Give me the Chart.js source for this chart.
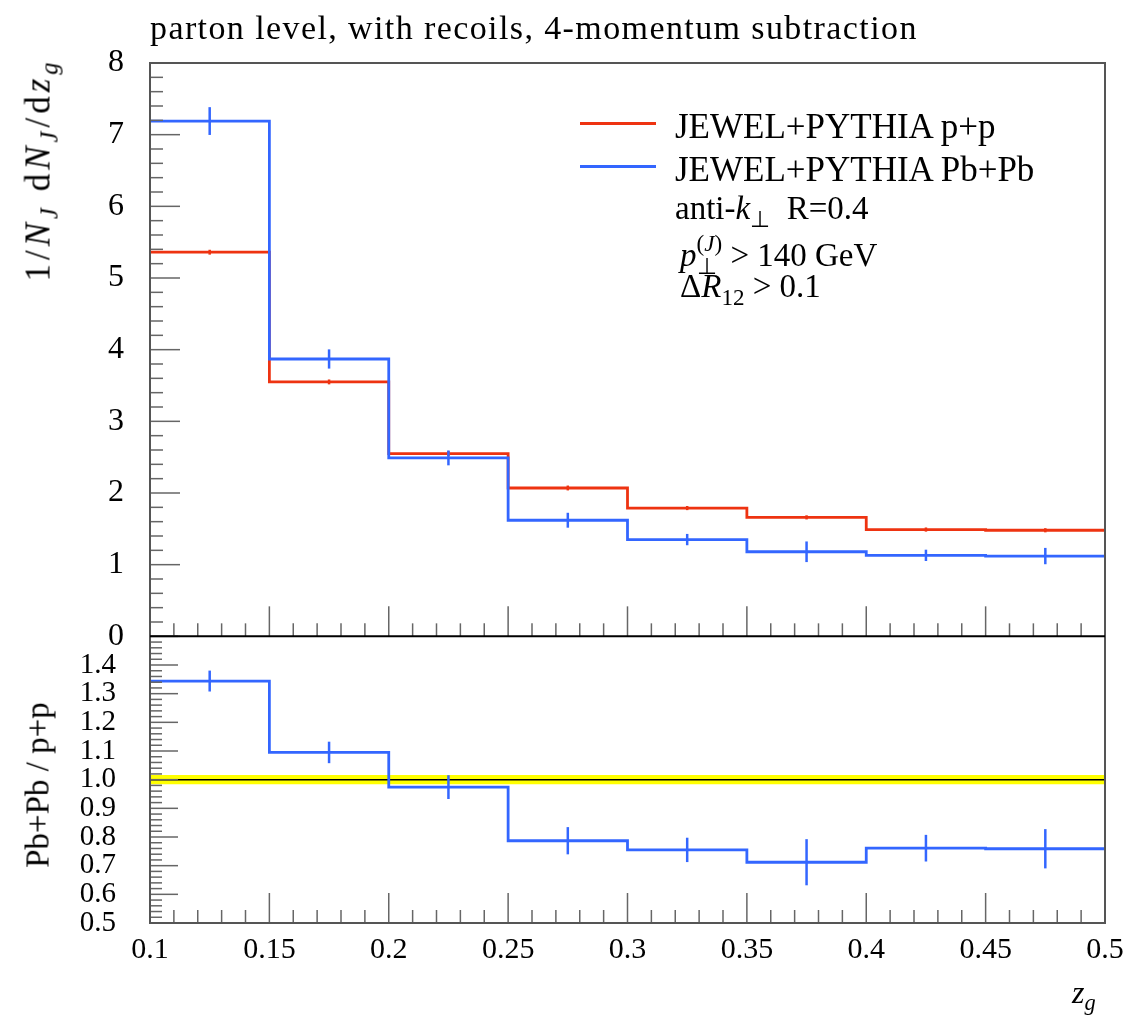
<!DOCTYPE html>
<html>
<head>
<meta charset="utf-8">
<script src="https://cdn.jsdelivr.net/npm/chart.js@4.4.0/dist/chart.umd.min.js"></script>
<style>
body{margin:0;background:#fff;}
#wrap{position:relative;width:1129px;height:1017px;font-family:"Liberation Serif",serif;color:#000;overflow:hidden;}
#wrap canvas{position:absolute;left:0;top:0;}
.t{position:absolute;white-space:nowrap;line-height:1;}
.rot{transform:translate(-50%,-50%) rotate(-90deg);}
.leg{position:absolute;height:3px;width:76px;}
sub,sup{font-size:0.7em;line-height:0;}
.ss{display:inline-block;vertical-align:-0.35em;font-size:0.7em;line-height:1;text-align:left;}
</style>
</head>
<body>
<div id="wrap">
<canvas id="myChart" width="1129" height="1017"></canvas>
<div class="t" style="left:150px;top:11px;font-size:34px;letter-spacing:1.4px;">parton level, with recoils, 4-momentum subtraction</div>
<div class="t rot" style="left:38px;top:170px;font-size:35px;letter-spacing:4px;">1/<i>N</i><sub><i>J</i></sub> d<i>N</i><sub><i>J</i></sub>/d<i>z</i><sub><i>g</i></sub></div>
<div class="t rot" style="left:38px;top:785px;font-size:33px;">Pb+Pb / p+p</div>
<div class="t" style="left:1072px;top:976px;font-size:32px;"><i>z</i><sub><i>g</i></sub></div>
<div class="leg" style="left:580px;top:122px;background:#ee3311;"></div>
<div class="leg" style="left:580px;top:165px;background:#3366ff;"></div>
<div class="t" style="left:675px;top:109px;font-size:35px;">JEWEL+PYTHIA p+p</div>
<div class="t" style="left:675px;top:152px;font-size:35px;">JEWEL+PYTHIA Pb+Pb</div>
<div class="t" style="left:675px;top:192px;font-size:33px;">anti-<i>k</i><sub>⊥</sub>&nbsp; R=0.4</div>
<div class="t" style="left:680px;top:232px;font-size:33px;"><i>p</i><span class="ss">(<i>J</i>)<br>⊥</span> &gt; 140 GeV</div>
<div class="t" style="left:680px;top:270px;font-size:33px;">Δ<i>R</i><sub>12</sub> &gt; 0.1</div>
</div>
<script>
// bins in z_g
const binEdges = [0.1, 0.15, 0.2, 0.25, 0.3, 0.35, 0.4, 0.45, 0.5];

// p+p
const ppValues = [5.36, 3.55, 2.55, 2.07, 1.79, 1.66, 1.49, 1.48];
const ppErrors = [0.02, 0.02, 0.02, 0.02, 0.015, 0.015, 0.015, 0.015];

// Pb+Pb
const pbValues = [7.19, 3.87, 2.49, 1.62, 1.35, 1.18, 1.13, 1.12];
const pbErrors = [0.18, 0.12, 0.09, 0.09, 0.065, 0.13, 0.065, 0.1];

// Pb+Pb / p+p
const ratioValues = [1.344, 1.095, 0.974, 0.787, 0.755, 0.712, 0.761, 0.759];
const ratioErrors = [0.033, 0.034, 0.038, 0.044, 0.039, 0.077, 0.043, 0.065];
const bandHalf = 0.016;

// tick labels
const xTicks = [0.1, 0.15, 0.2, 0.25, 0.3, 0.35, 0.4, 0.45, 0.5];
const topTicks = [0, 1, 2, 3, 4, 5, 6, 7, 8];
const ratioTicks = [0.5, 0.6, 0.7, 0.8, 0.9, 1.0, 1.1, 1.2, 1.3, 1.4];

const red = '#ee3311';
const blue = '#3366ff';

function steps(vals) {
  return binEdges.map((e, i) => ({x: e, y: vals[Math.min(i, vals.length - 1)]}));
}

// error bars at bin centres
const errorBars = {
  id: 'errorBars',
  afterDatasetsDraw(chart) {
    const ctx = chart.ctx;
    const x = chart.scales.x;
    const sets = [
      [chart.scales.y, ppValues, ppErrors, red],
      [chart.scales.y, pbValues, pbErrors, blue],
      [chart.scales.y2, ratioValues, ratioErrors, blue]
    ];
    ctx.save();
    ctx.lineWidth = 2.5;
    sets.forEach(([ys, vals, errs, col]) => {
      ctx.strokeStyle = col;
      vals.forEach((v, i) => {
        const px = x.getPixelForValue((binEdges[i] + binEdges[i + 1]) / 2);
        ctx.beginPath();
        ctx.moveTo(px, ys.getPixelForValue(v - errs[i]) + 1);
        ctx.lineTo(px, ys.getPixelForValue(v + errs[i]) - 1);
        ctx.stroke();
      });
    });
    ctx.restore();
  }
};

// frame + inward ticks, rivet style
const frame = {
  id: 'frame',
  afterDraw(chart) {
    const ctx = chart.ctx;
    const x = chart.scales.x, y = chart.scales.y, y2 = chart.scales.y2;
    const L = chart.chartArea.left, R = chart.chartArea.right;
    ctx.save();
    ctx.lineWidth = 1.5;
    ctx.strokeStyle = '#666';
    // x ticks on bottom of both panels
    [y.bottom, y2.bottom].forEach(b => {
      for (let k = 0; k <= 40; k++) {
        const v = 0.1 + k * 0.01;
        const px = x.getPixelForValue(v);
        const len = k % 5 === 0 ? 30 : 13;
        ctx.beginPath();
        ctx.moveTo(px, b);
        ctx.lineTo(px, b - len);
        ctx.stroke();
      }
    });
    // y ticks top panel
    for (let k = 0; k <= 40; k++) {
      const py = y.getPixelForValue(k * 0.2);
      ctx.beginPath();
      ctx.moveTo(L, py);
      ctx.lineTo(L + (k % 5 === 0 ? 30 : 13), py);
      ctx.stroke();
    }
    // y ticks ratio panel
    for (let k = 0; k <= 50; k++) {
      const py = y2.getPixelForValue(0.5 + k * 0.02);
      ctx.beginPath();
      ctx.moveTo(L, py);
      ctx.lineTo(L + (k % 5 === 0 ? 28 : 12), py);
      ctx.stroke();
    }
    // frame
    ctx.strokeStyle = '#555';
    ctx.lineWidth = 2;
    ctx.strokeRect(L, y.top, R - L, y2.bottom - y.top);
    ctx.strokeStyle = '#000';
    ctx.beginPath();
    ctx.moveTo(L, y.bottom);
    ctx.lineTo(R, y.bottom);
    ctx.stroke();
    ctx.restore();
  }
};

const ctx = document.getElementById('myChart');

new Chart(ctx, {
  type: 'line',
  data: {
    datasets: [
      {data: steps(pbValues), yAxisID: 'y', borderColor: blue, stepped: 'before', order: 1},
      {data: steps(ppValues), yAxisID: 'y', borderColor: red, stepped: 'before', order: 2},
      {data: steps(ratioValues), yAxisID: 'y2', borderColor: blue, stepped: 'before', order: 1},
      {data: [{x: 0.1, y: 1}, {x: 0.5, y: 1}], yAxisID: 'y2', borderColor: '#000', borderWidth: 1.5, order: 3},
      {data: [{x: 0.1, y: 1 + bandHalf}, {x: 0.5, y: 1 + bandHalf}], yAxisID: 'y2', borderWidth: 0, borderColor: 'rgba(0,0,0,0)', backgroundColor: '#ffff00', fill: '+1', order: 4},
      {data: [{x: 0.1, y: 1 - bandHalf}, {x: 0.5, y: 1 - bandHalf}], yAxisID: 'y2', borderWidth: 0, borderColor: 'rgba(0,0,0,0)', order: 5}
    ]
  },
  options: {
    responsive: false,
    animation: false,
    devicePixelRatio: 1,
    layout: {padding: {left: 0, right: 24, top: 63, bottom: 0}},
    elements: {
      line: {borderWidth: 2.8, tension: 0},
      point: {radius: 0}
    },
    plugins: {legend: {display: false}, tooltip: {enabled: false}},
    scales: {
      x: {
        type: 'linear', min: 0.1, max: 0.5,
        grid: {display: false}, border: {display: false},
        afterBuildTicks: s => { s.ticks = xTicks.map(v => ({value: v})); },
        afterFit: s => { s.height = 94; },
        ticks: {
          autoSkip: false, maxRotation: 0, padding: 1, color: '#000',
          font: {family: 'Liberation Serif', size: 30},
          callback: v => String(Math.round(v * 100) / 100)
        }
      },
      y2: {
        type: 'linear', position: 'left', stack: 'panels', stackWeight: 1,
        min: 0.5, max: 1.5,
        grid: {display: false}, border: {display: false},
        afterBuildTicks: s => { s.ticks = ratioTicks.map(v => ({value: v})); },
        afterFit: s => { s.width = 150; },
        ticks: {autoSkip: false, padding: 26, color: '#000', font: {family: 'Liberation Serif', size: 29},
          callback: v => v.toFixed(1)}
      },
      y: {
        type: 'linear', position: 'left', stack: 'panels', stackWeight: 2,
        min: 0, max: 8,
        grid: {display: false}, border: {display: false},
        afterBuildTicks: s => { s.ticks = topTicks.map(v => ({value: v})); },
        afterFit: s => { s.width = 150; },
        ticks: {autoSkip: false, padding: 18, color: '#000', font: {family: 'Liberation Serif', size: 32}}
      }
    }
  },
  plugins: [errorBars, frame]
});
</script>
</body>
</html>
